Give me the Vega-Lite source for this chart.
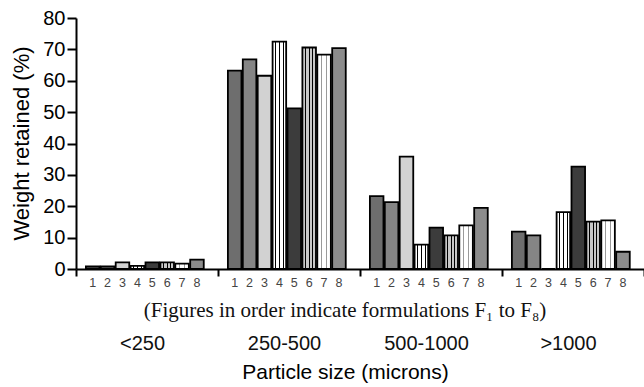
{
  "$schema": "https://vega.github.io/schema/vega-lite/v6.json",
  "autosize": {"type": "none"},
  "padding": {"left": 76, "top": 18, "right": 0, "bottom": 118},
  "width": 568,
  "height": 251,
  "background": "white",
  "config": {
    "view": {"stroke": null},
    "font": "Liberation Sans",
    "axisY": {
      "titleFontSize": 22,
      "titleFontWeight": "normal",
      "titleColor": "black",
      "titlePadding": 9,
      "labelOverlap": false,
      "labelFontSize": 20,
      "labelColor": "black",
      "labelPadding": 2,
      "tickSize": 9,
      "tickWidth": 2,
      "tickColor": "black",
      "domainColor": "black",
      "domainWidth": 2,
      "grid": false
    }
  },
  "data": {
    "values": [
      {"group": "<250", "f": 1, "value": 0.8},
      {"group": "<250", "f": 2, "value": 0.8},
      {"group": "<250", "f": 3, "value": 2.1},
      {"group": "<250", "f": 4, "value": 1.0},
      {"group": "<250", "f": 5, "value": 2.1},
      {"group": "<250", "f": 6, "value": 2.1},
      {"group": "<250", "f": 7, "value": 1.7},
      {"group": "<250", "f": 8, "value": 3.0},
      {"group": "250-500", "f": 1, "value": 63.2},
      {"group": "250-500", "f": 2, "value": 66.8},
      {"group": "250-500", "f": 3, "value": 61.6},
      {"group": "250-500", "f": 4, "value": 72.5},
      {"group": "250-500", "f": 5, "value": 51.2},
      {"group": "250-500", "f": 6, "value": 70.6},
      {"group": "250-500", "f": 7, "value": 68.3},
      {"group": "250-500", "f": 8, "value": 70.4},
      {"group": "500-1000", "f": 1, "value": 23.2},
      {"group": "500-1000", "f": 2, "value": 21.3},
      {"group": "500-1000", "f": 3, "value": 35.8},
      {"group": "500-1000", "f": 4, "value": 7.8},
      {"group": "500-1000", "f": 5, "value": 13.2},
      {"group": "500-1000", "f": 6, "value": 10.7},
      {"group": "500-1000", "f": 7, "value": 13.9},
      {"group": "500-1000", "f": 8, "value": 19.5},
      {"group": ">1000", "f": 1, "value": 11.9},
      {"group": ">1000", "f": 2, "value": 10.7},
      {"group": ">1000", "f": 3, "value": 0},
      {"group": ">1000", "f": 4, "value": 18.1},
      {"group": ">1000", "f": 5, "value": 32.6},
      {"group": ">1000", "f": 6, "value": 15.1},
      {"group": ">1000", "f": 7, "value": 15.5},
      {"group": ">1000", "f": 8, "value": 5.5}
    ]
  },
  "encoding": {
    "x": {
      "field": "group",
      "type": "nominal",
      "sort": ["<250", "250-500", "500-1000", ">1000"],
      "scale": {"paddingInner": 0, "paddingOuter": 0},
      "axis": {
        "title": "Particle size (microns)",
        "titleFontSize": 21,
        "titleFontWeight": "normal",
        "titleColor": "black",
        "titleX": 269,
        "titlePadding": 8,
        "labelAngle": 0,
        "labelFontSize": 20,
        "labelColor": "#111",
        "labelPadding": 57,
        "labelOffset": -5,
        "tickBand": "extent",
        "tickSize": 7,
        "tickWidth": 2,
        "tickColor": "black",
        "domainColor": "black",
        "domainWidth": 2
      }
    }
  },
  "layer": [
    {
      "mark": {"type": "bar", "stroke": "black", "strokeWidth": 1.8},
      "encoding": {
        "xOffset": {
          "field": "f",
          "type": "nominal",
          "scale": {"paddingInner": 0.09, "paddingOuter": 0.81, "align": 0.41}
        },
        "y": {
          "field": "value",
          "type": "quantitative",
          "scale": {"domain": [0, 80], "nice": false},
          "axis": {
            "title": "Weight retained (%)",
            "titleY": 125,
            "values": [0, 10, 20, 30, 40, 50, 60, 70, 80],
            "tickCount": 10
          }
        },
        "fill": {
          "condition": [
            {"test": "datum.f === 4", "value": {"gradient": "linear", "x1": 0, "y1": 0, "x2": 1, "y2": 0, "stops": [
              {"offset": 0, "color": "white"}, {"offset": 0.2, "color": "white"},
              {"offset": 0.2, "color": "black"}, {"offset": 0.27, "color": "black"},
              {"offset": 0.27, "color": "white"}, {"offset": 0.47, "color": "white"},
              {"offset": 0.47, "color": "black"}, {"offset": 0.54, "color": "black"},
              {"offset": 0.54, "color": "white"}, {"offset": 0.74, "color": "white"},
              {"offset": 0.74, "color": "black"}, {"offset": 0.81, "color": "black"},
              {"offset": 0.81, "color": "white"}, {"offset": 1, "color": "white"}
            ]}},
            {"test": "datum.f === 6", "value": {"gradient": "linear", "x1": 0, "y1": 0, "x2": 1, "y2": 0, "stops": [
              {"offset": 0, "color": "#c8c8c8"}, {"offset": 0.22, "color": "#c8c8c8"},
              {"offset": 0.22, "color": "black"}, {"offset": 0.3, "color": "black"},
              {"offset": 0.3, "color": "#c8c8c8"}, {"offset": 0.46, "color": "#c8c8c8"},
              {"offset": 0.46, "color": "black"}, {"offset": 0.54, "color": "black"},
              {"offset": 0.54, "color": "#c8c8c8"}, {"offset": 0.7, "color": "#c8c8c8"},
              {"offset": 0.7, "color": "black"}, {"offset": 0.78, "color": "black"},
              {"offset": 0.78, "color": "#c8c8c8"}, {"offset": 1, "color": "#c8c8c8"}
            ]}},
            {"test": "datum.f === 7", "value": {"gradient": "linear", "x1": 0, "y1": 0, "x2": 1, "y2": 0, "stops": [
              {"offset": 0, "color": "white"}, {"offset": 0.3, "color": "white"},
              {"offset": 0.3, "color": "#9a9a9a"}, {"offset": 0.37, "color": "#9a9a9a"},
              {"offset": 0.37, "color": "white"}, {"offset": 0.63, "color": "white"},
              {"offset": 0.63, "color": "#9a9a9a"}, {"offset": 0.7, "color": "#9a9a9a"},
              {"offset": 0.7, "color": "white"}, {"offset": 1, "color": "white"}
            ]}}
          ],
          "field": "f",
          "type": "nominal",
          "legend": null,
          "scale": {"range": ["#6e6e6e", "#858585", "#d2d2d2", "#c4c4c4", "#3c3c3c", "#9a9a9a", "#f2f2f2", "#8c8c8c"]}
        }
      }
    },
    {
      "mark": {"type": "text", "baseline": "top", "dy": 8, "fontSize": 12.5, "color": "#444"},
      "encoding": {
        "xOffset": {"field": "f", "type": "nominal"},
        "y": {
          "datum": 0,
          "type": "quantitative",
          "axis": {
            "title": "Weight retained (%)",
            "titleY": 125,
            "values": [0, 10, 20, 30, 40, 50, 60, 70, 80],
            "tickCount": 10
          }
        },
        "text": {"field": "f", "type": "nominal"}
      }
    },
    {
      "data": {"values": [{"note": "(Figures in order indicate formulations F₁ to F₈)"}]},
      "mark": {"type": "text", "baseline": "top", "align": "center", "dx": -15, "dy": 31, "fontSize": 21, "font": "Liberation Serif", "color": "#111"},
      "encoding": {
        "x": {"datum": "500-1000", "bandPosition": 0},
        "y": {
          "datum": 0,
          "type": "quantitative",
          "axis": {
            "title": "Weight retained (%)",
            "titleY": 125,
            "values": [0, 10, 20, 30, 40, 50, 60, 70, 80],
            "tickCount": 10
          }
        },
        "text": {"field": "note", "type": "nominal"}
      }
    }
  ]
}
